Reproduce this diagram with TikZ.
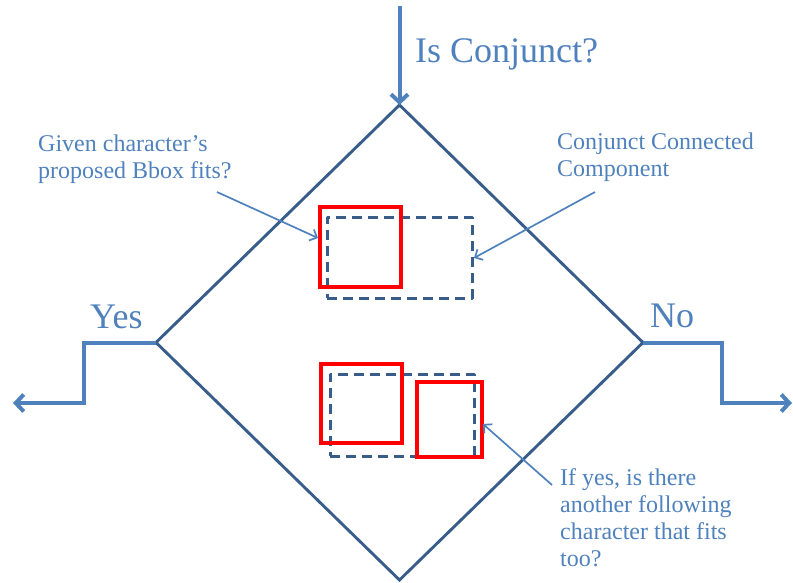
\documentclass[tikz,border=0pt]{standalone}
\usepackage{fontspec}
\setmainfont{Liberation Serif}
\usetikzlibrary{shapes.geometric,arrows.meta}
\definecolor{lblue}{RGB}{79,129,189}
\definecolor{dblue}{RGB}{56,93,138}
\definecolor{pred}{RGB}{255,0,0}
\begin{document}
\begin{tikzpicture}[x=1pt,y=-1pt,
  flow/.style={lblue, line width=4pt, -{Straight Barb[length=8pt,width=17pt]}},
  annot/.style={lblue, line width=1.7pt, -{Straight Barb[length=6pt,width=12pt]}},
  decision/.style={diamond, draw=dblue, line width=2.9pt, inner sep=0pt, outer sep=0pt},
  dashbox/.style={rectangle, draw=dblue, line width=3pt, dash pattern=on 10pt off 6pt, line join=round, inner sep=0pt},
  redbox/.style={rectangle, draw=pred, line width=3.3pt, inner sep=0pt},
  bigtext/.style={text=lblue, font=\fontsize{36}{40}\selectfont, inner sep=0pt},
  smalltext/.style={text=lblue, font=\fontsize{24}{27}\selectfont, align=left, inner sep=0pt}]
\useasboundingbox (0,0) rectangle (793,582);
% decision diamond
\node[decision, minimum width=487pt, minimum height=475pt] (dec) at (399.5,342.5) {};
% boxes
\node[dashbox, minimum width=145pt, minimum height=81pt] (c1) at (399.5,257.5) {};
\node[redbox, minimum width=81pt, minimum height=80pt] (r1) at (360.5,247) {};
\node[dashbox, minimum width=144pt, minimum height=82pt] (c2) at (402,415) {};
\node[redbox, minimum width=81pt, minimum height=79pt] (r2) at (361.5,403.5) {};
\node[redbox, minimum width=65pt, minimum height=75pt] (r3) at (449.5,419.5) {};
% flow arrows
\coordinate (topstart) at (399.5,6);
\draw[flow] (topstart) -- (dec.north);
\coordinate (ycorner) at (84,403);
\coordinate (yesend) at (13,403);
\draw[flow] (dec.west) -| (ycorner) -- (yesend);
\coordinate (ncorner) at (722,403);
\coordinate (noend) at (792,403);
\draw[flow] (dec.east) -| (ncorner) -- (noend);
% labels
\node[bigtext, anchor=base west] (q) at (415,62) {Is Conjunct?};
\node[bigtext, anchor=base west] (yes) at (90,328) {Yes};
\node[bigtext, anchor=base west] (no) at (650,327) {No};
\node[smalltext, anchor=north west] (t1) at (38,135) {Given character’s\\proposed Bbox fits?};
\node[smalltext, anchor=north west] (t2) at (557,133) {Conjunct Connected\\Component};
\node[smalltext, anchor=north west] (t3) at (560,468) {If yes, is there\\another following\\character that fits\\too?};
% annotation arrows
\coordinate (a1s) at (217,192);
\coordinate (a1e) at (318,238);
\draw[annot] (a1s) -- (a1e);
\coordinate (a2s) at (595,192);
\coordinate (a2e) at (474,258);
\draw[annot] (a2s) -- (a2e);
\coordinate (a3s) at (552,485);
\coordinate (a3e) at (483,424);
\draw[annot] (a3s) -- (a3e);
\end{tikzpicture}
\end{document}
